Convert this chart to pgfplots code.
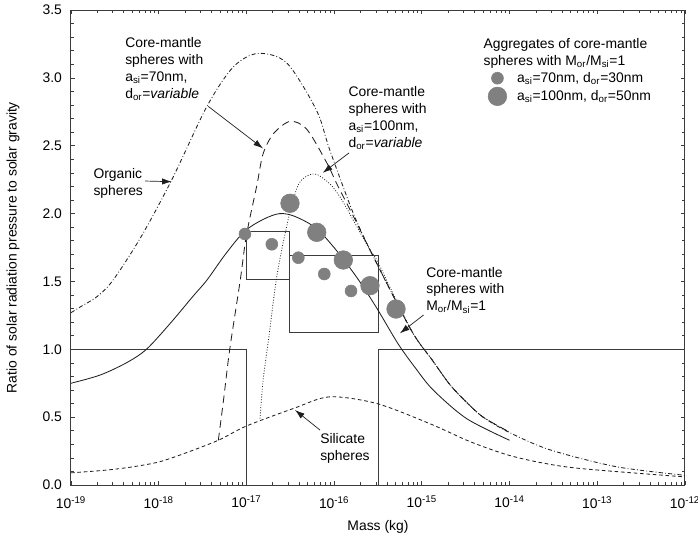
\documentclass[border=0pt]{standalone}
\usepackage{fontspec}
\setmainfont{Liberation Sans}
\usepackage{pgfplots}
\pgfplotsset{compat=1.18}
\usetikzlibrary{arrows.meta}
\definecolor{circ}{RGB}{128,128,128}
\definecolor{axc}{RGB}{60,60,60}
\definecolor{lnc}{RGB}{30,30,30}
\newcommand{\fs}{\fontsize{10}{12.2}\selectfont}
\begin{document}
\begin{tikzpicture}
\begin{axis}[name=ax, scale only axis, width=442pt, height=342pt,
  xmin=-19, xmax=-12, ymin=0, ymax=3.5,
  xtick={-19,-18,-17,-16,-15,-14,-13,-12},
  xticklabels={10\textsuperscript{-19},10\textsuperscript{-18},10\textsuperscript{-17},10\textsuperscript{-16},10\textsuperscript{-15},10\textsuperscript{-14},10\textsuperscript{-13},10\textsuperscript{-12}},
  minor xtick={-18.699,-18.523,-18.398,-18.301,-18.222,-18.155,-18.097,-18.046,
               -17.699,-17.523,-17.398,-17.301,-17.222,-17.155,-17.097,-17.046,
               -16.699,-16.523,-16.398,-16.301,-16.222,-16.155,-16.097,-16.046,
               -15.699,-15.523,-15.398,-15.301,-15.222,-15.155,-15.097,-15.046,
               -14.699,-14.523,-14.398,-14.301,-14.222,-14.155,-14.097,-14.046,
               -13.699,-13.523,-13.398,-13.301,-13.222,-13.155,-13.097,-13.046,
               -12.699,-12.523,-12.398,-12.301,-12.222,-12.155,-12.097,-12.046},
  ytick={0,0.5,1,1.5,2,2.5,3,3.5}, minor y tick num=4,
  yticklabel style={xshift=-3pt, /pgf/number format/.cd, fixed, fixed zerofill, precision=1, assume math mode=true},
  xticklabel style={yshift=-4.5pt},
  tick align=inside, tick pos=both,
  major tick length=3.2pt, minor tick length=2pt,
  every tick/.style={axc, line width=0.5pt},
  axis line style={axc, line width=0.7pt},
  tick label style={font=\fs},
  label style={font=\fs},
  xlabel={Mass (kg)},
  ylabel={Ratio of solar radiation pressure to solar gravity},
  xlabel style={at={(axis description cs:0.5,-0.0884)}, anchor=center},
  ylabel style={at={(axis description cs:-0.0945,0.5)}, anchor=center},
  legend style={draw=none, fill=none, at={(0.679,0.8354)}, anchor=west,
    inner sep=0pt, row sep=1pt, column sep=6.5pt, nodes={inner sep=1pt}, font=\fs},
  legend cell align=left,
]
% aggregates (circles)
\addplot[only marks, mark=*, mark size=4.3pt, mark options={draw=none, fill=circ}, color=circ]
  coordinates {(-17.016,1.85) (-16.71,1.774) (-16.408,1.675) (-16.112,1.555) (-15.807,1.43)};
\addlegendentry{a\textsubscript{si}=70nm, d\textsubscript{or}=30nm}
\addplot[only marks, mark=*, mark size=6.7pt, mark options={draw=none, fill=circ}, color=circ]
  coordinates {(-16.503,2.076) (-16.198,1.862) (-15.895,1.658) (-15.591,1.469) (-15.294,1.297)};
\addlegendentry{a\textsubscript{si}=100nm, d\textsubscript{or}=50nm}
% steps
\addplot[forget plot, axc, line width=0.6pt] coordinates {(-19,1) (-17,1) (-17,0)};
\addplot[forget plot, axc, line width=0.6pt] coordinates {(-15.5,0) (-15.5,1) (-12,1)};
% boxes
\addplot[forget plot, axc, line width=0.6pt] coordinates {(-17,1.867) (-16.505,1.867) (-16.505,1.518) (-17,1.518) (-17,1.867)};
\addplot[forget plot, axc, line width=0.6pt] coordinates {(-16.505,1.69) (-15.5,1.69) (-15.5,1.125) (-16.505,1.125) (-16.505,1.69)};
% core-mantle M_or/M_si=1 (solid)
\addplot[forget plot, lnc, line width=0.6pt, smooth] coordinates {
 (-19.0,0.75) (-18.67,0.81) (-18.37,0.90) (-18.14,1.00) (-17.87,1.19) (-17.61,1.39)
 (-17.45,1.51) (-17.24,1.70) (-17.02,1.87) (-16.8,1.96) (-16.62,2.00) (-16.45,1.98)
 (-16.2,1.89) (-15.95,1.71) (-15.72,1.51) (-15.51,1.30) (-15.27,1.04) (-15.07,0.86)
 (-14.87,0.70) (-14.49,0.49) (-14.0,0.33)};
% organic spheres (dash dot)
\addplot[forget plot, lnc, line width=0.6pt, smooth, dash pattern=on 3pt off 1.6pt on 0.6pt off 1.6pt] coordinates {
 (-19.0,1.27) (-18.9,1.31) (-18.7,1.39) (-18.52,1.51) (-18.2,1.83) (-17.85,2.25)
 (-17.45,2.79) (-17.15,3.08) (-16.87,3.18) (-16.54,3.11) (-16.2,2.76) (-16.05,2.47)
 (-15.78,2.0) (-15.55,1.68) (-15.12,1.14) (-14.88,0.92) (-14.68,0.74) (-14.49,0.61)
 (-14.3,0.50) (-14.01,0.39) (-13.54,0.26) (-12.78,0.135) (-12.0,0.072)};
% core-mantle a_si=70nm (dashed)
\addplot[forget plot, lnc, line width=0.6pt, smooth, dash pattern=on 5.5pt off 3.5pt] coordinates {
 (-17.32,0.33) (-17.26,0.63) (-17.19,1.0) (-17.07,1.51) (-17.0,1.84) (-16.88,2.21)
 (-16.81,2.44) (-16.69,2.59) (-16.5,2.68) (-16.31,2.62) (-16.08,2.37) (-15.97,2.22)
 (-15.78,1.98) (-15.55,1.68) (-15.12,1.14) (-14.88,0.92) (-14.68,0.74) (-14.49,0.61)
 (-14.3,0.50) (-14.0,0.39)};
% core-mantle a_si=100nm (dotted)
\addplot[forget plot, lnc, line width=0.6pt, smooth, dash pattern=on 0.6pt off 1.3pt] coordinates {
 (-16.845,0.49) (-16.81,0.77) (-16.75,1.06) (-16.65,1.55) (-16.52,1.965) (-16.41,2.21)
 (-16.3,2.28) (-16.2,2.29) (-16.05,2.22) (-15.93,2.12) (-15.78,1.95) (-15.59,1.73)
 (-15.5,1.64) (-15.12,1.14) (-14.88,0.92) (-14.68,0.74) (-14.49,0.61) (-14.3,0.50)
 (-14.0,0.39)};
% silicate spheres (short dashes)
\addplot[forget plot, lnc, line width=0.6pt, smooth, dash pattern=on 2.6pt off 2pt] coordinates {
 (-19.0,0.09) (-18.6,0.11) (-18.29,0.135) (-18.0,0.17) (-17.72,0.23) (-17.32,0.33)
 (-17.0,0.435) (-16.46,0.565) (-16.05,0.65) (-15.51,0.60) (-14.9,0.45) (-14.45,0.32)
 (-14.01,0.22) (-13.6,0.16) (-13.16,0.12) (-12.0,0.06)};
% annotations
\node[anchor=north west, inner sep=0pt, align=left, font=\fs] at (axis cs:-18.384,3.298)
  {Core-mantle\\spheres with\\a\textsubscript{si}=70nm,\\d\textsubscript{or}=\textit{variable}};
\draw[lnc, line width=0.5pt, -{Latex[length=7pt,width=4.5pt]}] (axis cs:-17.435,2.79) -- (axis cs:-16.81,2.48);
\node[anchor=north west, inner sep=0pt, align=left, font=\fs] at (axis cs:-15.838,2.94)
  {Core-mantle\\spheres with\\a\textsubscript{si}=100nm,\\d\textsubscript{or}=\textit{variable}};
\draw[lnc, line width=0.5pt, -{Latex[length=7pt,width=4.5pt]}] (axis cs:-15.83,2.447) -- (axis cs:-16.13,2.30);
\node[anchor=north west, inner sep=0pt, align=left, font=\fs] at (axis cs:-18.746,2.334)
  {Organic\\spheres};
\draw[lnc, line width=0.5pt, -{Latex[length=7pt,width=4.5pt]}] (axis cs:-18.156,2.24) -- (axis cs:-17.85,2.235);
\node[anchor=north west, inner sep=0pt, align=left, font=\fs] at (axis cs:-14.952,1.609)
  {Core-mantle\\spheres with\\M\textsubscript{or}/M\textsubscript{si}=1};
\draw[lnc, line width=0.5pt, -{Latex[length=7pt,width=4.5pt]}] (axis cs:-14.98,1.253) -- (axis cs:-15.25,1.118);
\node[anchor=north west, inner sep=0pt, align=left, font=\fs] at (axis cs:-16.161,0.381)
  {Silicate\\spheres};
\draw[lnc, line width=0.5pt, -{Latex[length=7pt,width=4.5pt]}] (axis cs:-16.16,0.405) -- (axis cs:-16.446,0.553);
\node[anchor=north west, inner sep=0pt, align=left, font=\fs] at (axis cs:-14.299,3.292)
  {Aggregates of core-mantle\\spheres with M\textsubscript{or}/M\textsubscript{si}=1};
\end{axis}
\pgfresetboundingbox
\path[use as bounding box] ([shift={(-51.1pt,-39.6pt)}]ax.south west) rectangle ([shift={(9.4pt,7.2pt)}]ax.north east);
\end{tikzpicture}
\end{document}
